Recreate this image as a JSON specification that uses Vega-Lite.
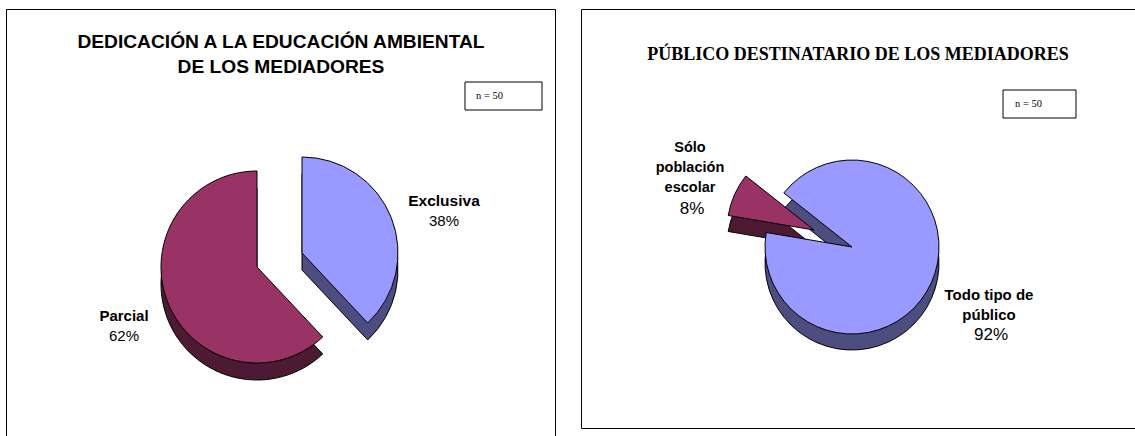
{"$schema":"https://vega.github.io/schema/vega-lite/v6.json","padding":{"left":5,"top":8,"right":0,"bottom":0},"autosize":{"type":"pad"},"background":"white","spacing":24,"config":{"view":{"stroke":"black","strokeWidth":1},"concat":{"spacing":24},"text":{"font":"Liberation Sans"}},"datasets":{"pies":[{"chart":"A","slice":"Exclusiva","label":"Exclusiva","pct":"38%","value":38},{"chart":"A","slice":"Parcial","label":"Parcial","pct":"62%","value":62},{"chart":"B","slice":"Todo tipo de público","label":"Todo tipo de|público","pct":"92%","value":92},{"chart":"B","slice":"Sólo población escolar","label":"Sólo|población|escolar","pct":"8%","value":8}],"notes":[{"note":"n = 50"}]},"hconcat":[{"width":549,"height":430,"title":{"text":["DEDICACIÓN A LA EDUCACIÓN AMBIENTAL","DE LOS MEDIADORES"],"font":"Liberation Sans","fontWeight":"bold","fontSize":19.2,"lineHeight":25,"anchor":"start","align":"center","dx":275,"offset":-68,"color":"black"},"data":{"name":"pies"},"transform":[{"filter":"datum.chart==='A'"},{"stack":"value","groupby":["chart"],"as":["v0","v1"]}],"layer":[{"transform":[{"filter":"datum.slice==='Parcial'"}],"mark":{"type":"arc","radius":96,"fill":"#4D1A33","stroke":"black"},"encoding":{"theta":{"field":"v0","type":"quantitative","scale":{"domain":[0,100],"range":[0,6.2832]}},"theta2":{"field":"v1"},"x":{"value":251},"y":{"value":275}}},{"transform":[{"filter":"datum.slice==='Exclusiva'"}],"mark":{"type":"arc","radius":96,"fill":"#4D4D80","stroke":"black"},"encoding":{"theta":{"field":"v0","type":"quantitative","scale":{"domain":[0,100],"range":[0,6.2832]}},"theta2":{"field":"v1"},"x":{"value":296},"y":{"value":261}}},{"transform":[{"filter":"datum.slice==='Parcial'"}],"mark":{"type":"arc","radius":96,"fill":"#993366","stroke":"black"},"encoding":{"theta":{"field":"v0","type":"quantitative","scale":{"domain":[0,100],"range":[0,6.2832]}},"theta2":{"field":"v1"},"x":{"value":251},"y":{"value":258}}},{"transform":[{"filter":"datum.slice==='Exclusiva'"}],"mark":{"type":"arc","radius":96,"fill":"#9999FF","stroke":"black"},"encoding":{"theta":{"field":"v0","type":"quantitative","scale":{"domain":[0,100],"range":[0,6.2832]}},"theta2":{"field":"v1"},"x":{"value":296},"y":{"value":244}}},{"transform":[{"filter":"datum.slice==='Exclusiva'"}],"mark":{"type":"text","fontWeight":"bold","fontSize":15.5,"baseline":"middle","lineBreak":"|"},"encoding":{"text":{"field":"label"},"x":{"value":438},"y":{"value":192}}},{"transform":[{"filter":"datum.slice==='Exclusiva'"}],"mark":{"type":"text","fontSize":15,"baseline":"middle"},"encoding":{"text":{"field":"pct"},"x":{"value":438},"y":{"value":212}}},{"transform":[{"filter":"datum.slice==='Parcial'"}],"mark":{"type":"text","fontWeight":"bold","fontSize":15,"baseline":"middle"},"encoding":{"text":{"field":"label"},"x":{"value":118},"y":{"value":307}}},{"transform":[{"filter":"datum.slice==='Parcial'"}],"mark":{"type":"text","fontSize":15,"baseline":"middle"},"encoding":{"text":{"field":"pct"},"x":{"value":118},"y":{"value":327}}},{"data":{"name":"notes"},"transform":[],"mark":{"type":"rect","fill":"white","stroke":"black"},"encoding":{"x":{"value":459},"x2":{"value":536},"y":{"value":73},"y2":{"value":101}}},{"data":{"name":"notes"},"transform":[],"mark":{"type":"text","font":"Liberation Serif","fontSize":10.5,"align":"left","baseline":"middle"},"encoding":{"text":{"field":"note"},"x":{"value":470},"y":{"value":87}}}]},{"width":560,"height":419,"title":{"text":"PÚBLICO DESTINATARIO DE LOS MEDIADORES","font":"Liberation Serif","fontWeight":"bold","fontSize":18,"anchor":"start","align":"center","dx":277,"offset":-55,"color":"black"},"data":{"name":"pies"},"transform":[{"filter":"datum.chart==='B'"},{"stack":"value","groupby":["chart"],"as":["v0","v1"]}],"layer":[{"transform":[{"filter":"datum.value>50"}],"mark":{"type":"arc","radius":87,"fill":"#4D4D80","stroke":"black"},"encoding":{"theta":{"field":"v0","type":"quantitative","scale":{"domain":[0,100],"range":[5.3826,11.6658]}},"theta2":{"field":"v1"},"x":{"value":271},"y":{"value":254}}},{"transform":[{"filter":"datum.value<50"}],"mark":{"type":"arc","radius":87,"fill":"#4D1A33","stroke":"black"},"encoding":{"theta":{"field":"v0","type":"quantitative","scale":{"domain":[0,100],"range":[5.3826,11.6658]}},"theta2":{"field":"v1"},"x":{"value":233},"y":{"value":237}}},{"transform":[{"filter":"datum.value<50"}],"mark":{"type":"arc","radius":87,"fill":"#993366","stroke":"black"},"encoding":{"theta":{"field":"v0","type":"quantitative","scale":{"domain":[0,100],"range":[5.3826,11.6658]}},"theta2":{"field":"v1"},"x":{"value":233},"y":{"value":221}}},{"transform":[{"filter":"datum.value>50"}],"mark":{"type":"arc","radius":87,"fill":"#9999FF","stroke":"black"},"encoding":{"theta":{"field":"v0","type":"quantitative","scale":{"domain":[0,100],"range":[5.3826,11.6658]}},"theta2":{"field":"v1"},"x":{"value":271},"y":{"value":238}}},{"transform":[{"filter":"datum.value>50"}],"mark":{"type":"text","fontWeight":"bold","fontSize":15,"lineBreak":"|","lineHeight":20,"baseline":"middle"},"encoding":{"text":{"field":"label"},"x":{"value":408},"y":{"value":286}}},{"transform":[{"filter":"datum.value>50"}],"mark":{"type":"text","fontSize":17,"baseline":"middle"},"encoding":{"text":{"field":"pct"},"x":{"value":410},"y":{"value":326}}},{"transform":[{"filter":"datum.value<50"}],"mark":{"type":"text","fontWeight":"bold","fontSize":14.5,"lineBreak":"|","lineHeight":20,"baseline":"middle"},"encoding":{"text":{"field":"label"},"x":{"value":109},"y":{"value":139}}},{"transform":[{"filter":"datum.value<50"}],"mark":{"type":"text","fontSize":17,"baseline":"middle"},"encoding":{"text":{"field":"pct"},"x":{"value":111},"y":{"value":200}}},{"data":{"name":"notes"},"transform":[],"mark":{"type":"rect","fill":"white","stroke":"black"},"encoding":{"x":{"value":422},"x2":{"value":495},"y":{"value":81},"y2":{"value":109}}},{"data":{"name":"notes"},"transform":[],"mark":{"type":"text","font":"Liberation Serif","fontSize":10.5,"align":"left","baseline":"middle"},"encoding":{"text":{"field":"note"},"x":{"value":434},"y":{"value":95}}}]}]}
